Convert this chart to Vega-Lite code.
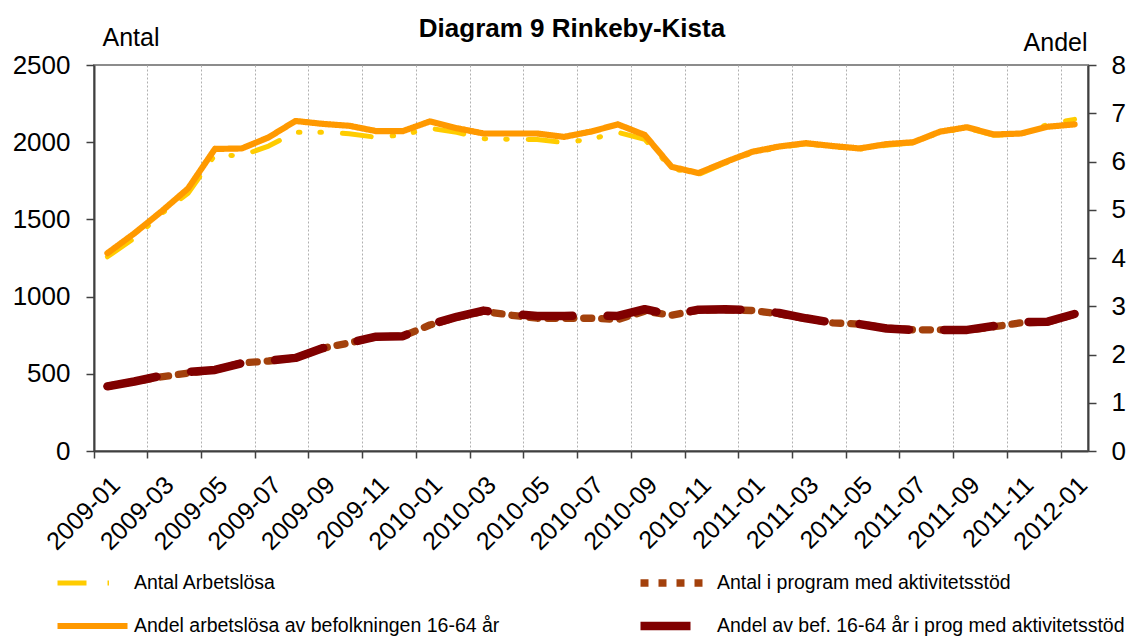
{
  "$schema": "https://vega.github.io/schema/vega-lite/v6.json",
  "width": 994,
  "height": 386,
  "autosize": {"type": "none"},
  "padding": {"left": 94, "top": 65, "right": 39, "bottom": 186},
  "background": "white",
  "config": {
    "font": "Liberation Sans",
    "view": {"stroke": "#8c8c8c", "strokeWidth": 2}
  },
  "title": {
    "text": "Diagram 9 Rinkeby-Kista",
    "fontSize": 26,
    "fontWeight": "bold",
    "font": "Liberation Sans",
    "color": "black",
    "anchor": "middle",
    "dx": -19,
    "baseline": "alphabetic",
    "offset": -38
  },
  "datasets": {
    "antal": [
      {"month": "2009-01", "series": "Antal Arbetslösa", "value": 1258},
      {"month": "2009-02", "series": "Antal Arbetslösa", "value": 1378},
      {"month": "2009-03", "series": "Antal Arbetslösa", "value": 1535},
      {"month": "2009-04", "series": "Antal Arbetslösa", "value": 1669},
      {"month": "2009-05", "series": "Antal Arbetslösa", "value": 1917},
      {"month": "2009-06", "series": "Antal Arbetslösa", "value": 1913},
      {"month": "2009-07", "series": "Antal Arbetslösa", "value": 1975},
      {"month": "2009-08", "series": "Antal Arbetslösa", "value": 2064},
      {"month": "2009-09", "series": "Antal Arbetslösa", "value": 2064},
      {"month": "2009-10", "series": "Antal Arbetslösa", "value": 2055},
      {"month": "2009-11", "series": "Antal Arbetslösa", "value": 2032},
      {"month": "2009-12", "series": "Antal Arbetslösa", "value": 2047},
      {"month": "2010-01", "series": "Antal Arbetslösa", "value": 2090},
      {"month": "2010-02", "series": "Antal Arbetslösa", "value": 2064},
      {"month": "2010-03", "series": "Antal Arbetslösa", "value": 2023},
      {"month": "2010-04", "series": "Antal Arbetslösa", "value": 2019},
      {"month": "2010-05", "series": "Antal Arbetslösa", "value": 2017},
      {"month": "2010-06", "series": "Antal Arbetslösa", "value": 1997},
      {"month": "2010-07", "series": "Antal Arbetslösa", "value": 2020},
      {"month": "2010-08", "series": "Antal Arbetslösa", "value": 2064},
      {"month": "2010-09", "series": "Antal Arbetslösa", "value": 2019},
      {"month": "2010-10", "series": "Antal Arbetslösa", "value": 1831},
      {"month": "2010-11", "series": "Antal Arbetslösa", "value": 1790},
      {"month": "2010-12", "series": "Antal Arbetslösa", "value": 1865},
      {"month": "2011-01", "series": "Antal Arbetslösa", "value": 1930},
      {"month": "2011-02", "series": "Antal Arbetslösa", "value": 1965},
      {"month": "2011-03", "series": "Antal Arbetslösa", "value": 1990},
      {"month": "2011-04", "series": "Antal Arbetslösa", "value": 1970},
      {"month": "2011-05", "series": "Antal Arbetslösa", "value": 1955},
      {"month": "2011-06", "series": "Antal Arbetslösa", "value": 1980},
      {"month": "2011-07", "series": "Antal Arbetslösa", "value": 1995},
      {"month": "2011-08", "series": "Antal Arbetslösa", "value": 2065},
      {"month": "2011-09", "series": "Antal Arbetslösa", "value": 2090},
      {"month": "2011-10", "series": "Antal Arbetslösa", "value": 2045},
      {"month": "2011-11", "series": "Antal Arbetslösa", "value": 2050},
      {"month": "2011-12", "series": "Antal Arbetslösa", "value": 2115},
      {"month": "2012-01", "series": "Antal Arbetslösa", "value": 2148},
      {"month": "2009-01", "series": "Antal i program med aktivitetsstöd", "value": 419},
      {"month": "2009-02", "series": "Antal i program med aktivitetsstöd", "value": 450},
      {"month": "2009-03", "series": "Antal i program med aktivitetsstöd", "value": 480},
      {"month": "2009-04", "series": "Antal i program med aktivitetsstöd", "value": 505},
      {"month": "2009-05", "series": "Antal i program med aktivitetsstöd", "value": 525},
      {"month": "2009-06", "series": "Antal i program med aktivitetsstöd", "value": 570},
      {"month": "2009-07", "series": "Antal i program med aktivitetsstöd", "value": 583},
      {"month": "2009-08", "series": "Antal i program med aktivitetsstöd", "value": 603},
      {"month": "2009-09", "series": "Antal i program med aktivitetsstöd", "value": 665},
      {"month": "2009-10", "series": "Antal i program med aktivitetsstöd", "value": 700},
      {"month": "2009-11", "series": "Antal i program med aktivitetsstöd", "value": 740},
      {"month": "2009-12", "series": "Antal i program med aktivitetsstöd", "value": 744},
      {"month": "2010-01", "series": "Antal i program med aktivitetsstöd", "value": 816},
      {"month": "2010-02", "series": "Antal i program med aktivitetsstöd", "value": 865},
      {"month": "2010-03", "series": "Antal i program med aktivitetsstöd", "value": 905},
      {"month": "2010-04", "series": "Antal i program med aktivitetsstöd", "value": 880},
      {"month": "2010-05", "series": "Antal i program med aktivitetsstöd", "value": 860},
      {"month": "2010-06", "series": "Antal i program med aktivitetsstöd", "value": 860},
      {"month": "2010-07", "series": "Antal i program med aktivitetsstöd", "value": 860},
      {"month": "2010-08", "series": "Antal i program med aktivitetsstöd", "value": 852},
      {"month": "2010-09", "series": "Antal i program med aktivitetsstöd", "value": 905},
      {"month": "2010-10", "series": "Antal i program med aktivitetsstöd", "value": 880},
      {"month": "2010-11", "series": "Antal i program med aktivitetsstöd", "value": 912},
      {"month": "2010-12", "series": "Antal i program med aktivitetsstöd", "value": 915},
      {"month": "2011-01", "series": "Antal i program med aktivitetsstöd", "value": 910},
      {"month": "2011-02", "series": "Antal i program med aktivitetsstöd", "value": 888},
      {"month": "2011-03", "series": "Antal i program med aktivitetsstöd", "value": 858},
      {"month": "2011-04", "series": "Antal i program med aktivitetsstöd", "value": 830},
      {"month": "2011-05", "series": "Antal i program med aktivitetsstöd", "value": 822},
      {"month": "2011-06", "series": "Antal i program med aktivitetsstöd", "value": 795},
      {"month": "2011-07", "series": "Antal i program med aktivitetsstöd", "value": 785},
      {"month": "2011-08", "series": "Antal i program med aktivitetsstöd", "value": 785},
      {"month": "2011-09", "series": "Antal i program med aktivitetsstöd", "value": 782},
      {"month": "2011-10", "series": "Antal i program med aktivitetsstöd", "value": 805},
      {"month": "2011-11", "series": "Antal i program med aktivitetsstöd", "value": 830},
      {"month": "2011-12", "series": "Antal i program med aktivitetsstöd", "value": 836},
      {"month": "2012-01", "series": "Antal i program med aktivitetsstöd", "value": 885}
    ],
    "andel": [
      {"month": "2009-01", "series": "Andel arbetslösa av befolkningen 16-64 år", "value": 4.10},
      {"month": "2009-02", "series": "Andel arbetslösa av befolkningen 16-64 år", "value": 4.51},
      {"month": "2009-03", "series": "Andel arbetslösa av befolkningen 16-64 år", "value": 4.96},
      {"month": "2009-04", "series": "Andel arbetslösa av befolkningen 16-64 år", "value": 5.44},
      {"month": "2009-05", "series": "Andel arbetslösa av befolkningen 16-64 år", "value": 6.26},
      {"month": "2009-06", "series": "Andel arbetslösa av befolkningen 16-64 år", "value": 6.27},
      {"month": "2009-07", "series": "Andel arbetslösa av befolkningen 16-64 år", "value": 6.50},
      {"month": "2009-08", "series": "Andel arbetslösa av befolkningen 16-64 år", "value": 6.84},
      {"month": "2009-09", "series": "Andel arbetslösa av befolkningen 16-64 år", "value": 6.78},
      {"month": "2009-10", "series": "Andel arbetslösa av befolkningen 16-64 år", "value": 6.74},
      {"month": "2009-11", "series": "Andel arbetslösa av befolkningen 16-64 år", "value": 6.63},
      {"month": "2009-12", "series": "Andel arbetslösa av befolkningen 16-64 år", "value": 6.63},
      {"month": "2010-01", "series": "Andel arbetslösa av befolkningen 16-64 år", "value": 6.83},
      {"month": "2010-02", "series": "Andel arbetslösa av befolkningen 16-64 år", "value": 6.69},
      {"month": "2010-03", "series": "Andel arbetslösa av befolkningen 16-64 år", "value": 6.58},
      {"month": "2010-04", "series": "Andel arbetslösa av befolkningen 16-64 år", "value": 6.58},
      {"month": "2010-05", "series": "Andel arbetslösa av befolkningen 16-64 år", "value": 6.58},
      {"month": "2010-06", "series": "Andel arbetslösa av befolkningen 16-64 år", "value": 6.51},
      {"month": "2010-07", "series": "Andel arbetslösa av befolkningen 16-64 år", "value": 6.62},
      {"month": "2010-08", "series": "Andel arbetslösa av befolkningen 16-64 år", "value": 6.77},
      {"month": "2010-09", "series": "Andel arbetslösa av befolkningen 16-64 år", "value": 6.55},
      {"month": "2010-10", "series": "Andel arbetslösa av befolkningen 16-64 år", "value": 5.89},
      {"month": "2010-11", "series": "Andel arbetslösa av befolkningen 16-64 år", "value": 5.76},
      {"month": "2010-12", "series": "Andel arbetslösa av befolkningen 16-64 år", "value": 5.99},
      {"month": "2011-01", "series": "Andel arbetslösa av befolkningen 16-64 år", "value": 6.20},
      {"month": "2011-02", "series": "Andel arbetslösa av befolkningen 16-64 år", "value": 6.31},
      {"month": "2011-03", "series": "Andel arbetslösa av befolkningen 16-64 år", "value": 6.38},
      {"month": "2011-04", "series": "Andel arbetslösa av befolkningen 16-64 år", "value": 6.32},
      {"month": "2011-05", "series": "Andel arbetslösa av befolkningen 16-64 år", "value": 6.27},
      {"month": "2011-06", "series": "Andel arbetslösa av befolkningen 16-64 år", "value": 6.36},
      {"month": "2011-07", "series": "Andel arbetslösa av befolkningen 16-64 år", "value": 6.40},
      {"month": "2011-08", "series": "Andel arbetslösa av befolkningen 16-64 år", "value": 6.62},
      {"month": "2011-09", "series": "Andel arbetslösa av befolkningen 16-64 år", "value": 6.71},
      {"month": "2011-10", "series": "Andel arbetslösa av befolkningen 16-64 år", "value": 6.56},
      {"month": "2011-11", "series": "Andel arbetslösa av befolkningen 16-64 år", "value": 6.58},
      {"month": "2011-12", "series": "Andel arbetslösa av befolkningen 16-64 år", "value": 6.72},
      {"month": "2012-01", "series": "Andel arbetslösa av befolkningen 16-64 år", "value": 6.77},
      {"month": "2009-01", "series": "Andel av bef. 16-64 år i prog med aktivitetsstöd", "value": 1.34},
      {"month": "2009-02", "series": "Andel av bef. 16-64 år i prog med aktivitetsstöd", "value": 1.44},
      {"month": "2009-03", "series": "Andel av bef. 16-64 år i prog med aktivitetsstöd", "value": 1.56},
      {"month": "2009-04", "series": "Andel av bef. 16-64 år i prog med aktivitetsstöd", "value": 1.64},
      {"month": "2009-05", "series": "Andel av bef. 16-64 år i prog med aktivitetsstöd", "value": 1.68},
      {"month": "2009-06", "series": "Andel av bef. 16-64 år i prog med aktivitetsstöd", "value": 1.82},
      {"month": "2009-07", "series": "Andel av bef. 16-64 år i prog med aktivitetsstöd", "value": 1.87},
      {"month": "2009-08", "series": "Andel av bef. 16-64 år i prog med aktivitetsstöd", "value": 1.93},
      {"month": "2009-09", "series": "Andel av bef. 16-64 år i prog med aktivitetsstöd", "value": 2.13},
      {"month": "2009-10", "series": "Andel av bef. 16-64 år i prog med aktivitetsstöd", "value": 2.24},
      {"month": "2009-11", "series": "Andel av bef. 16-64 år i prog med aktivitetsstöd", "value": 2.37},
      {"month": "2009-12", "series": "Andel av bef. 16-64 år i prog med aktivitetsstöd", "value": 2.38},
      {"month": "2010-01", "series": "Andel av bef. 16-64 år i prog med aktivitetsstöd", "value": 2.62},
      {"month": "2010-02", "series": "Andel av bef. 16-64 år i prog med aktivitetsstöd", "value": 2.78},
      {"month": "2010-03", "series": "Andel av bef. 16-64 år i prog med aktivitetsstöd", "value": 2.91},
      {"month": "2010-04", "series": "Andel av bef. 16-64 år i prog med aktivitetsstöd", "value": 2.84},
      {"month": "2010-05", "series": "Andel av bef. 16-64 år i prog med aktivitetsstöd", "value": 2.80},
      {"month": "2010-06", "series": "Andel av bef. 16-64 år i prog med aktivitetsstöd", "value": 2.80},
      {"month": "2010-07", "series": "Andel av bef. 16-64 år i prog med aktivitetsstöd", "value": 2.81},
      {"month": "2010-08", "series": "Andel av bef. 16-64 år i prog med aktivitetsstöd", "value": 2.80},
      {"month": "2010-09", "series": "Andel av bef. 16-64 år i prog med aktivitetsstöd", "value": 2.94},
      {"month": "2010-10", "series": "Andel av bef. 16-64 år i prog med aktivitetsstöd", "value": 2.82},
      {"month": "2010-11", "series": "Andel av bef. 16-64 år i prog med aktivitetsstöd", "value": 2.93},
      {"month": "2010-12", "series": "Andel av bef. 16-64 år i prog med aktivitetsstöd", "value": 2.94},
      {"month": "2011-01", "series": "Andel av bef. 16-64 år i prog med aktivitetsstöd", "value": 2.92},
      {"month": "2011-02", "series": "Andel av bef. 16-64 år i prog med aktivitetsstöd", "value": 2.86},
      {"month": "2011-03", "series": "Andel av bef. 16-64 år i prog med aktivitetsstöd", "value": 2.75},
      {"month": "2011-04", "series": "Andel av bef. 16-64 år i prog med aktivitetsstöd", "value": 2.66},
      {"month": "2011-05", "series": "Andel av bef. 16-64 år i prog med aktivitetsstöd", "value": 2.63},
      {"month": "2011-06", "series": "Andel av bef. 16-64 år i prog med aktivitetsstöd", "value": 2.54},
      {"month": "2011-07", "series": "Andel av bef. 16-64 år i prog med aktivitetsstöd", "value": 2.51},
      {"month": "2011-08", "series": "Andel av bef. 16-64 år i prog med aktivitetsstöd", "value": 2.51},
      {"month": "2011-09", "series": "Andel av bef. 16-64 år i prog med aktivitetsstöd", "value": 2.51},
      {"month": "2011-10", "series": "Andel av bef. 16-64 år i prog med aktivitetsstöd", "value": 2.59},
      {"month": "2011-11", "series": "Andel av bef. 16-64 år i prog med aktivitetsstöd", "value": 2.67},
      {"month": "2011-12", "series": "Andel av bef. 16-64 år i prog med aktivitetsstöd", "value": 2.68},
      {"month": "2012-01", "series": "Andel av bef. 16-64 år i prog med aktivitetsstöd", "value": 2.84}
    ]
  },
  "encoding": {
    "x": {
      "field": "month",
      "type": "ordinal",
      "scale": {"type": "band", "paddingInner": 0, "paddingOuter": 0},
      "axis": {
        "values": ["2009-01","2009-03","2009-05","2009-07","2009-09","2009-11","2010-01","2010-03","2010-05","2010-07","2010-09","2010-11","2011-01","2011-03","2011-05","2011-07","2011-09","2011-11","2012-01"],
        "bandPosition": 0,
        "title": null,
        "labelAngle": -45,
        "labelAlign": "right",
        "labelBaseline": "top",
        "labelFontSize": 25,
        "labelColor": "black",
        "labelPadding": 14,
        "labelOverlap": false,
        "tickSize": 7,
        "tickColor": "#404040",
        "tickWidth": 1.5,
        "domainColor": "#404040",
        "domainWidth": 2,
        "grid": true,
        "gridColor": "#b0b0b0",
        "gridDash": [2, 2],
        "gridWidth": 1
      }
    },
    "color": {
      "field": "series",
      "type": "nominal",
      "scale": {
        "domain": ["Antal Arbetslösa", "Andel arbetslösa av befolkningen 16-64 år", "Antal i program med aktivitetsstöd", "Andel av bef. 16-64 år i prog med aktivitetsstöd"],
        "range": ["#FFCC00", "#FF9900", "#A3410C", "#800000"]
      },
      "legend": {
        "title": null,
        "orient": "none",
        "legendX": -41,
        "legendY": 507,
        "columns": 2,
        "columnPadding": 136,
        "rowPadding": 21,
        "clipHeight": 22,
        "padding": 0,
        "symbolType": "stroke",
        "symbolSize": 4900,
        "labelFontSize": 19.5,
        "labelColor": "black",
        "labelLimit": 600,
        "labelOffset": 2,
        "labelBaseline": "middle"
      }
    },
    "strokeDash": {
      "field": "series",
      "type": "nominal",
      "scale": {
        "domain": ["Antal Arbetslösa", "Andel arbetslösa av befolkningen 16-64 år", "Antal i program med aktivitetsstöd", "Andel av bef. 16-64 år i prog med aktivitetsstöd"],
        "range": [[29, 21, 1.5, 20, 1.5, 21], [1, 0], [8, 10], [50, 35]]
      },
      "legend": null
    },
    "strokeWidth": {
      "field": "series",
      "type": "nominal",
      "scale": {
        "domain": ["Antal Arbetslösa", "Andel arbetslösa av befolkningen 16-64 år", "Antal i program med aktivitetsstöd", "Andel av bef. 16-64 år i prog med aktivitetsstöd"],
        "range": [5, 8.5, 4.5, 8.5]
      },
      "legend": null
    }
  },
  "layer": [
    {
      "data": {"name": "antal"},
      "mark": {"type": "line", "strokeCap": "round", "strokeJoin": "round"},
      "encoding": {
        "y": {
          "field": "value",
          "type": "quantitative",
          "scale": {"domain": [0, 2500]},
          "axis": {
            "orient": "left",
            "values": [0, 500, 1000, 1500, 2000, 2500],
            "format": "d",
            "title": "Antal",
            "titleAngle": 0,
            "titleAlign": "left",
            "titleBaseline": "alphabetic",
            "titleX": 8,
            "titleY": -20,
            "titleFontSize": 25,
            "titleFontWeight": "normal",
            "titleColor": "black",
            "labelFontSize": 26,
            "labelColor": "black",
            "labelPadding": 16,
            "tickSize": 8,
            "tickColor": "#404040",
            "tickWidth": 1.5,
            "domainColor": "#404040",
            "domainWidth": 2,
            "grid": false
          }
        }
      }
    },
    {
      "data": {"name": "andel"},
      "mark": {"type": "line", "strokeCap": "round", "strokeJoin": "round"},
      "encoding": {
        "y": {
          "field": "value",
          "type": "quantitative",
          "scale": {"domain": [0, 8]},
          "axis": {
            "orient": "right",
            "values": [0, 1, 2, 3, 4, 5, 6, 7, 8],
            "format": "d",
            "title": "Andel",
            "titleAngle": 0,
            "titleAlign": "right",
            "titleBaseline": "alphabetic",
            "titleX": -1,
            "titleY": -15,
            "titleFontSize": 25,
            "titleFontWeight": "normal",
            "titleColor": "black",
            "labelFontSize": 26,
            "labelColor": "black",
            "labelPadding": 15,
            "tickSize": 8,
            "tickColor": "#404040",
            "tickWidth": 1.5,
            "domainColor": "#404040",
            "domainWidth": 2,
            "grid": false
          }
        }
      }
    }
  ],
  "resolve": {"scale": {"y": "independent"}}
}
